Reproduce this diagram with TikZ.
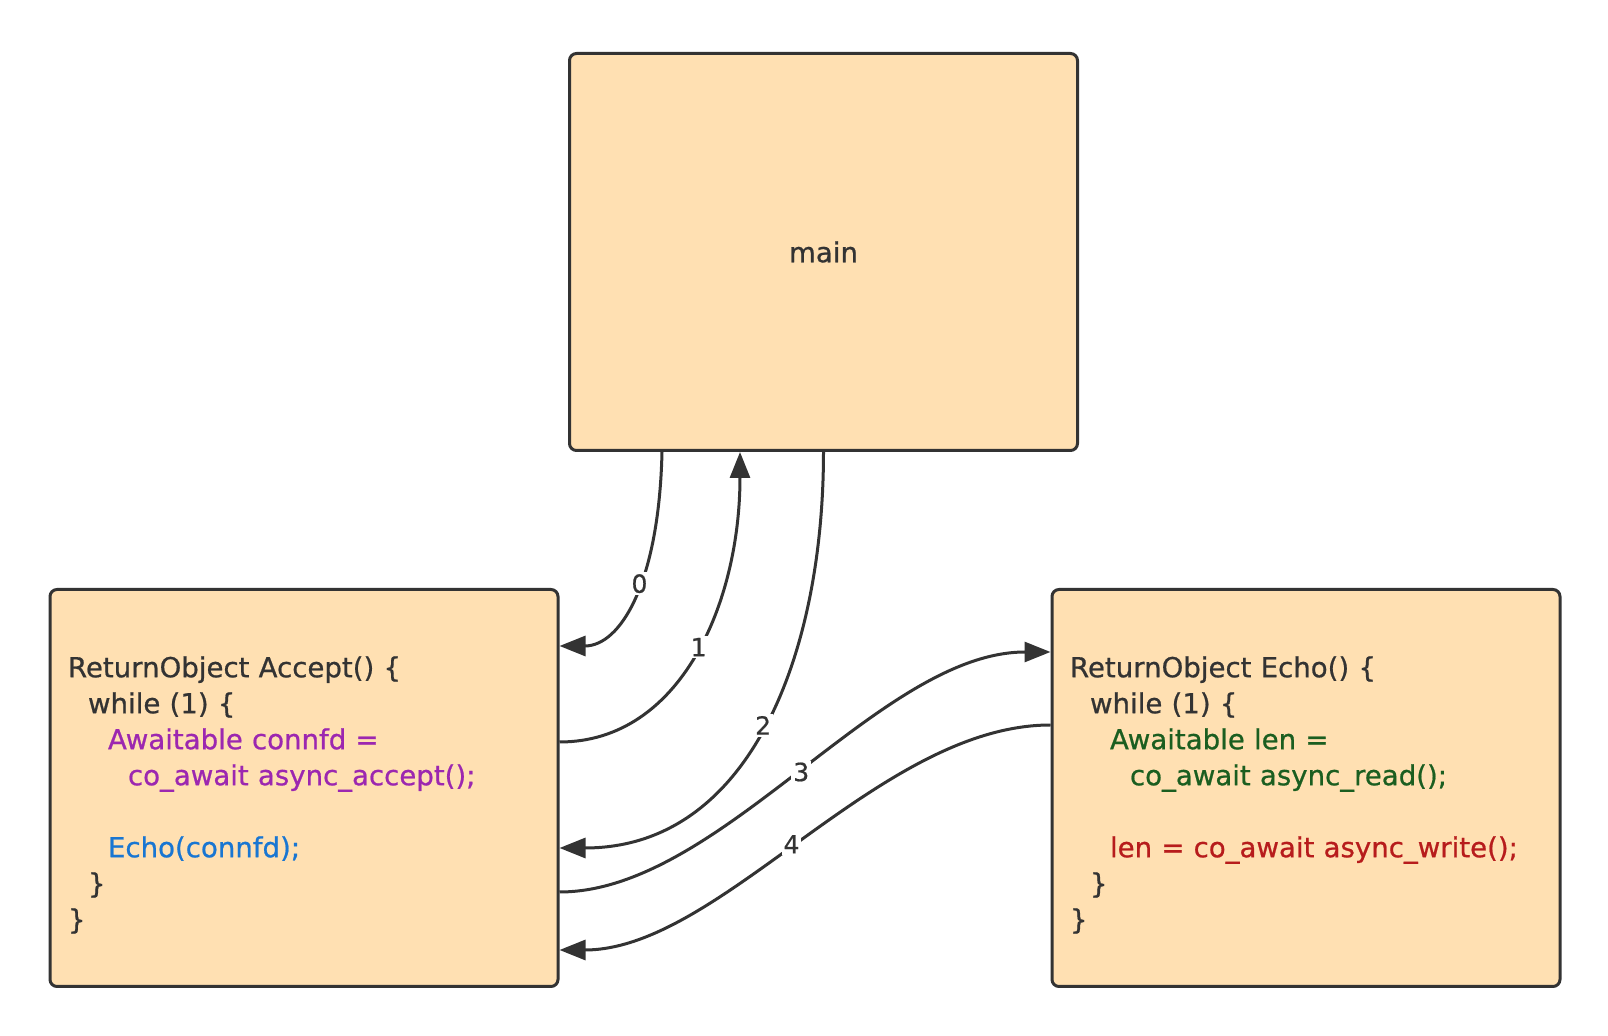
\documentclass[tikz,border=0pt]{standalone}
\usepackage{fontspec}
\setmainfont{DejaVu Sans}[RawFeature={embolden=0.7}]
\usetikzlibrary{arrows.meta}
\newcommand{\unitpx}{0.5pt}
\definecolor{boxfill}{HTML}{FFE0B2}
\definecolor{linegray}{HTML}{333333}
\definecolor{awaitpurple}{HTML}{9C27B0}
\definecolor{callblue}{HTML}{1976D2}
\definecolor{readgreen}{HTML}{1B5E20}
\definecolor{writered}{HTML}{B71C1C}

\begin{document}
\begin{tikzpicture}[x=\unitpx, y=-\unitpx]
\useasboundingbox (0,0) rectangle (1608,1036);
\tikzstyle{codebox}=[draw=linegray,
                     line width=1.5pt,
                     fill=boxfill,
                     rounded corners=3.5pt,
                     minimum width  = 508*\unitpx,
                     minimum height = 397*\unitpx,
                     inner xsep=9pt,
                     text=linegray,
                     font=\fontsize{13.8}{18}\selectfont
                     ]
\tikzstyle{flow}=[draw=linegray, line width=1.5pt, -{Triangle[length=13pt,width=10pt]}]
\tikzstyle{steplabel}=[fill=white, inner sep=1pt, text=linegray, font=\fontsize{12.5}{14}\selectfont]
\node[codebox] (main) at (823.5,252) {main};
\node[codebox, align=left, text width=236pt] (accept) at (304,788) {\rule{0pt}{17.5pt}ReturnObject Accept() \{\\
\hspace*{10pt}while (1) \{\\
\hspace*{20pt}\textcolor{awaitpurple}{Awaitable connfd =}\\
\hspace*{30pt}\textcolor{awaitpurple}{co\_await async\_accept();}\\
\mbox{}\\
\hspace*{20pt}\textcolor{callblue}{Echo(connfd);}\\
\hspace*{10pt}\}\\
\}};
\node[codebox, align=left, text width=236pt] (echo) at (1306,788) {\rule{0pt}{17.5pt}ReturnObject Echo() \{\\
\hspace*{10pt}while (1) \{\\
\hspace*{20pt}\textcolor{readgreen}{Awaitable len =}\\
\hspace*{30pt}\textcolor{readgreen}{co\_await async\_read();}\\
\mbox{}\\
\hspace*{20pt}\textcolor{writered}{len = co\_await async\_write();}\\
\hspace*{10pt}\}\\
\}};
\draw[flow] ([xshift=-161.5*\unitpx]main.south) .. controls +(-3,131) and +(61,0) .. ([yshift=142*\unitpx]accept.east) node[steplabel, pos=0.43] {0};
\draw[flow] ([yshift=46*\unitpx]accept.east) .. controls +(121,0) and +(0,151) .. ([xshift=-83.5*\unitpx]main.south) node[steplabel, pos=0.52] {1};
\draw[flow] (main.south) .. controls +(0,201) and +(191,0) .. ([yshift=-60*\unitpx]accept.east) node[steplabel, pos=0.5] {2};
\draw[flow] ([yshift=-104*\unitpx]accept.east) .. controls +(161,0) and +(-171,0) .. ([yshift=136*\unitpx]echo.west) node[steplabel, pos=0.5] {3};
\draw[flow] ([yshift=63*\unitpx]echo.west) .. controls +(-171,0) and +(161,0) .. ([yshift=-162*\unitpx]accept.east) node[steplabel, pos=0.52] {4};
\end{tikzpicture}
\end{document}
